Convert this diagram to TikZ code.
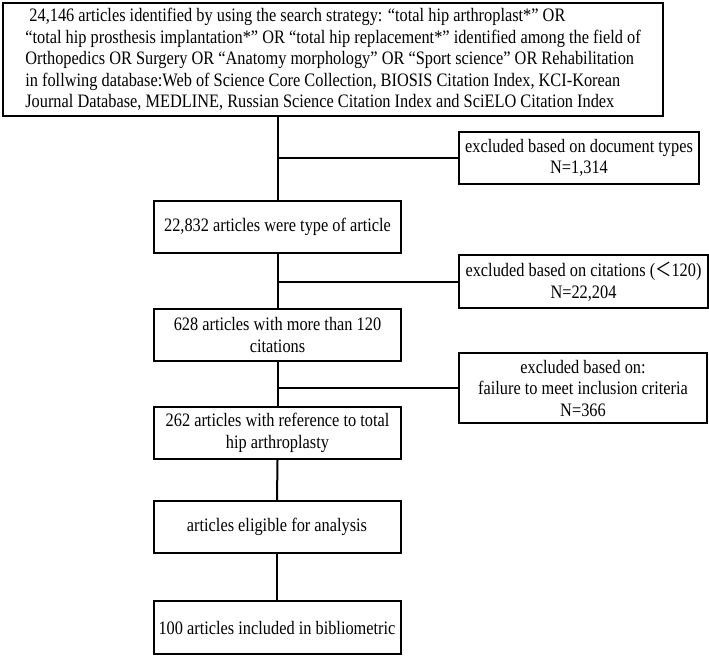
\documentclass[tikz,border=0pt]{standalone}
\usepackage{fontspec}
\setmainfont{Liberation Serif}[FakeStretch=0.86]
\newfontfamily\cjk{Noto Sans CJK SC}[FakeStretch=0.86]
\begin{document}
\begin{tikzpicture}[x=1pt,y=-1pt,
  every node/.style={font=\fontsize{19}{21.5}\selectfont},
  box/.style={draw=black,line width=2pt,rectangle,inner sep=0pt,align=center},
  link/.style={draw=black,line width=2pt}]
\useasboundingbox (0,0) rectangle (709,656);
\node[box,minimum width=660,minimum height=113,align=left] (top) at (333,59.5)
 {\ 24,146 articles identified by using the search strategy: “total hip arthroplast*” OR\\
  “total hip prosthesis implantation*” OR “total hip replacement*” identified among the field of\\
  Orthopedics OR Surgery OR “Anatomy morphology” OR “Sport science” OR Rehabilitation\\
  in follwing database:Web of Science Core Collection, BIOSIS Citation Index, KCI-Korean\\
  Journal Database, MEDLINE, Russian Science Citation Index and SciELO Citation Index};
\node[box,minimum width=240,minimum height=52] (ex1) at (579,158)
 {excluded based on document types\\N=1,314};
\node[box,minimum width=247,minimum height=52] (b2) at (277.5,227)
 {22,832 articles were type of article};
\node[box,minimum width=249,minimum height=53] (ex2) at (583.5,281.5)
 {excluded based on citations ({\cjk ＜}120)\\N=22,204};
\node[box,minimum width=247,minimum height=52] (b3) at (277.5,335)
 {628 articles with more than 120\\citations};
\node[box,minimum width=248,minimum height=70] (ex3) at (583,388)
 {excluded based on:\\failure to meet inclusion criteria\\N=366};
\node[box,minimum width=247,minimum height=52] (b4) at (277.5,433)
 {262 articles with reference to total\\hip arthroplasty};
\node[box,minimum width=247,minimum height=52] (b5) at (277,527)
 {articles eligible for analysis};
\node[box,minimum width=247,minimum height=53] (b6) at (277,627.5)
 {100 articles included in bibliometric};
\coordinate (j1) at (278,158);
\coordinate (j2) at (278,281.5);
\coordinate (j3) at (278,388);
\draw[link] (top.south -| b2.north) -- (b2.north);
\draw[link] (j1) -- (ex1.west);
\draw[link] (b2.south) -- (b3.north);
\draw[link] (j2) -- (ex2.west);
\draw[link] (b3.south) -- (b4.north);
\draw[link] (j3) -- (ex3.west);
\draw[link] (b4.south) -- (b5.north);
\draw[link] (b5.south) -- (b6.north);
\end{tikzpicture}
\end{document}
